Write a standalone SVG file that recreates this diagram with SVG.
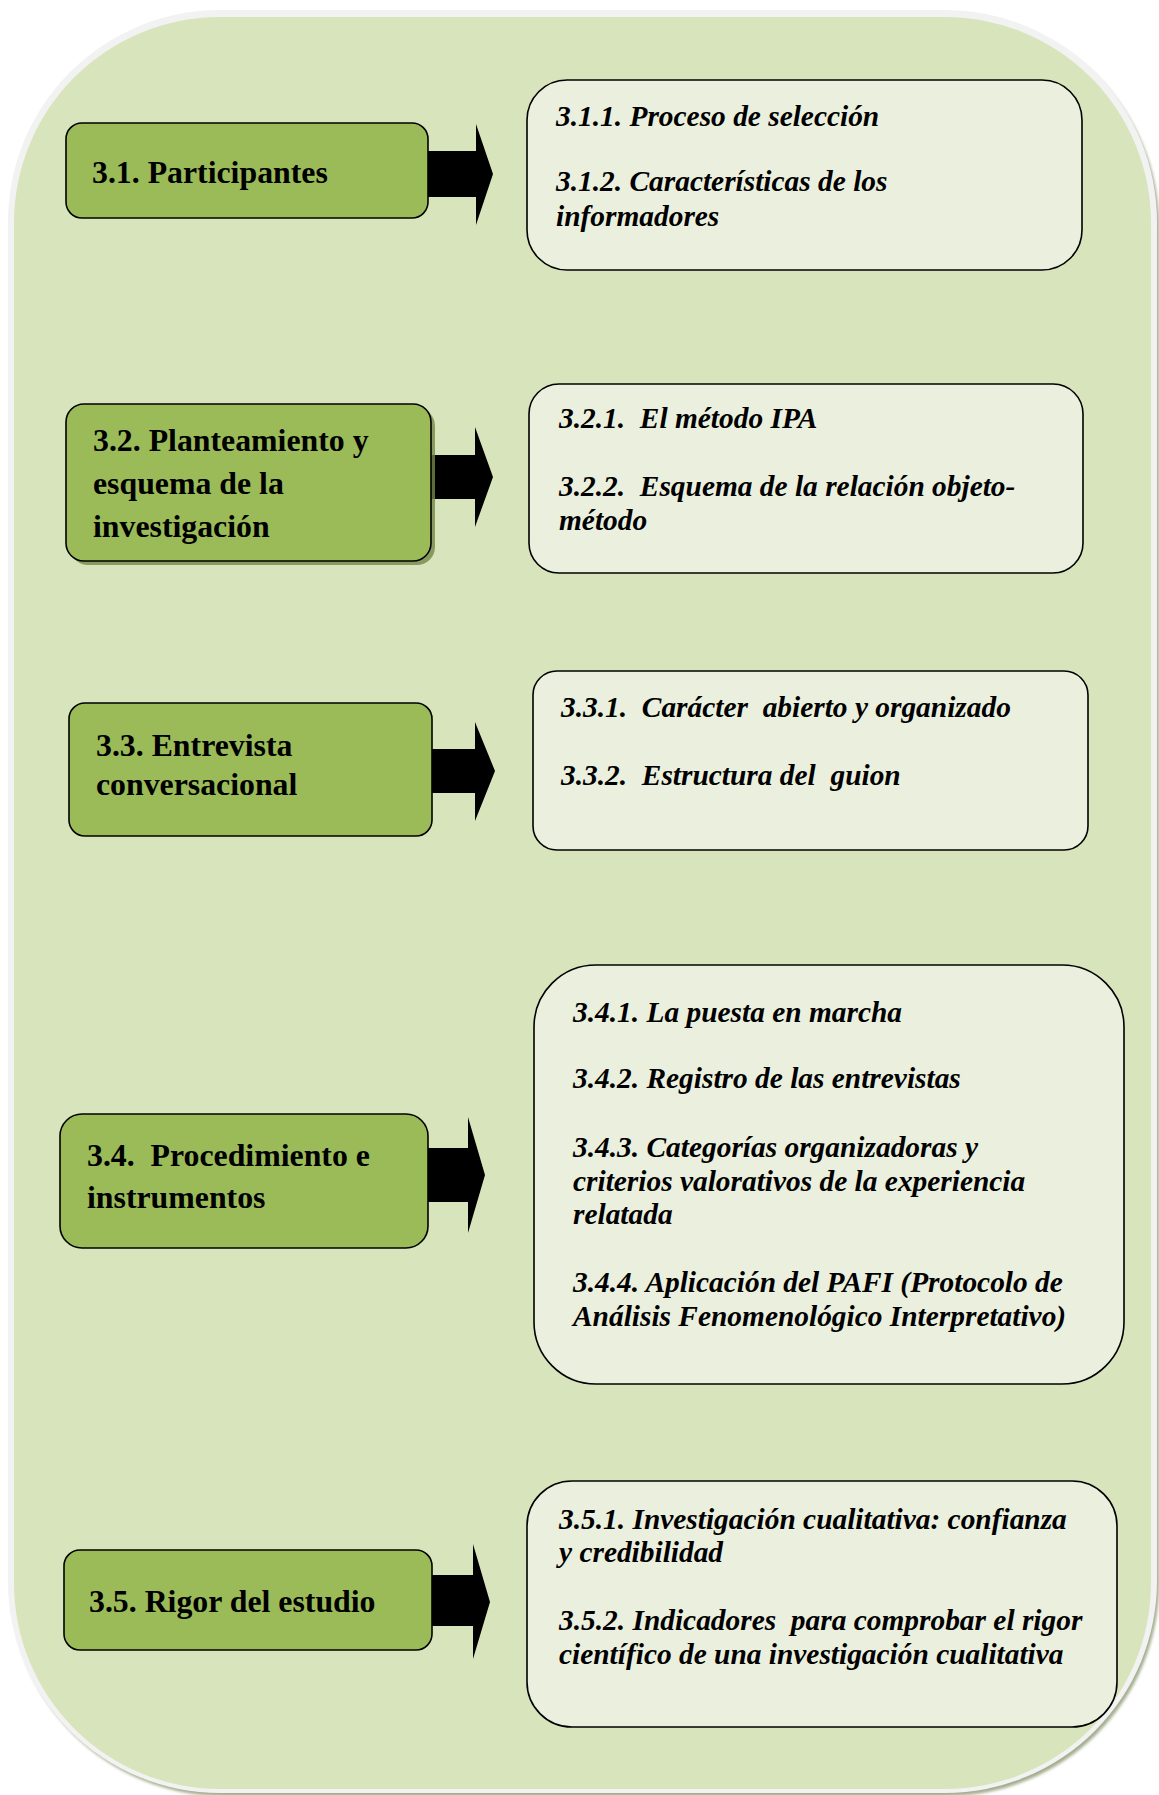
<svg xmlns="http://www.w3.org/2000/svg" width="1159" height="1795" viewBox="0 0 1159 1795">
  <defs>
    <filter id="soft" x="-5%" y="-5%" width="110%" height="110%">
      <feGaussianBlur stdDeviation="1.5"/>
    </filter>
  </defs>
  <style>
    .node { fill: #9bbb59; stroke: #000; stroke-width: 1.6; }
    .sub { fill: #ebf0de; stroke: #000; stroke-width: 1.6; }
    .lbl { font-family: "Liberation Serif", "Times New Roman", serif; font-weight: bold; font-size: 31.8px; fill: #000; white-space: pre; }
    .item { font-family: "Liberation Serif", "Times New Roman", serif; font-weight: bold; font-style: italic; font-size: 29.4px; fill: #000; white-space: pre; }
    .arrow { fill: #000; }
  </style>

  <!-- panel background: drop shadow, pale rim, green face -->
  <g id="panel">
    <rect x="11" y="14" width="1148" height="1782" rx="212" ry="212" fill="#a3ad8e" filter="url(#soft)"/>
    <rect x="8" y="10" width="1149" height="1783" rx="212" ry="212" fill="#f2f2f2"/>
    <rect x="14" y="17" width="1137" height="1772" rx="206" ry="206" fill="#d8e4bc"/>
  </g>

  <!-- connectors -->
  <g id="connectors">
    <polygon class="arrow" points="428,151 476,151 476,124 493,174 476,225 476,197 428,197"/>
    <polygon class="arrow" points="431,455 475,455 475,427 493,477 475,527 475,499 431,499"/>
    <polygon class="arrow" points="432,749 475,749 475,722 495,771 475,821 475,793 432,793"/>
    <polygon class="arrow" points="428,1148 468,1148 468,1117 485,1175 468,1233 468,1202 428,1202"/>
    <polygon class="arrow" points="432,1575 473,1575 473,1544 490,1602 473,1659 473,1626 432,1626"/>
  </g>

  <!-- 3.1 -->
  <g id="n31">
    <rect class="node" x="66" y="123" width="362" height="95" rx="16"/>
    <text class="lbl" x="92" y="183">3.1. Participantes</text>
  </g>
  <g id="s31">
    <rect class="sub" x="527" y="80" width="555" height="190" rx="40"/>
    <text class="item" x="556" y="126">3.1.1. Proceso de selección</text>
    <text class="item" x="556" y="191">3.1.2. Características de los</text>
    <text class="item" x="556" y="226">informadores</text>
  </g>

  <!-- 3.2 -->
  <g id="n32">
    <rect x="70" y="408" width="365" height="157" rx="18" fill="#76874a" opacity="0.8"/>
    <rect class="node" x="66" y="404" width="365" height="157" rx="18"/>
    <text class="lbl" x="93" y="451">3.2. Planteamiento y</text>
    <text class="lbl" x="93" y="494">esquema de la</text>
    <text class="lbl" x="93" y="537">investigación</text>
  </g>
  <g id="s32">
    <rect class="sub" x="529" y="384" width="554" height="189" rx="30"/>
    <text class="item" x="559" y="428">3.2.1.  El método IPA</text>
    <text class="item" x="559" y="496">3.2.2.  Esquema de la relación objeto-</text>
    <text class="item" x="559" y="530">método</text>
  </g>

  <!-- 3.3 -->
  <g id="n33">
    <rect class="node" x="69" y="703" width="363" height="133" rx="16"/>
    <text class="lbl" x="96" y="756">3.3. Entrevista</text>
    <text class="lbl" x="96" y="795">conversacional</text>
  </g>
  <g id="s33">
    <rect class="sub" x="533" y="671" width="555" height="179" rx="24"/>
    <text class="item" x="561" y="717">3.3.1.  Carácter  abierto y organizado</text>
    <text class="item" x="561" y="785">3.3.2.  Estructura del  guion</text>
  </g>

  <!-- 3.4 -->
  <g id="n34">
    <rect class="node" x="60" y="1114" width="368" height="134" rx="22"/>
    <text class="lbl" x="87" y="1166">3.4.  Procedimiento e</text>
    <text class="lbl" x="87" y="1208">instrumentos</text>
  </g>
  <g id="s34">
    <rect class="sub" x="534" y="965" width="590" height="419" rx="62"/>
    <text class="item" x="573" y="1022">3.4.1. La puesta en marcha</text>
    <text class="item" x="573" y="1088">3.4.2. Registro de las entrevistas</text>
    <text class="item" x="573" y="1157">3.4.3. Categorías organizadoras y</text>
    <text class="item" x="573" y="1191">criterios valorativos de la experiencia</text>
    <text class="item" x="573" y="1224">relatada</text>
    <text class="item" x="573" y="1292">3.4.4. Aplicación del PAFI (Protocolo de</text>
    <text class="item" x="573" y="1326">Análisis Fenomenológico Interpretativo)</text>
  </g>

  <!-- 3.5 -->
  <g id="n35">
    <rect class="node" x="64" y="1550" width="368" height="100" rx="16"/>
    <text class="lbl" x="89" y="1612">3.5. Rigor del estudio</text>
  </g>
  <g id="s35">
    <rect class="sub" x="527" y="1481" width="590" height="246" rx="45"/>
    <text class="item" x="559" y="1529">3.5.1. Investigación cualitativa: confianza</text>
    <text class="item" x="559" y="1562">y credibilidad</text>
    <text class="item" x="559" y="1630">3.5.2. Indicadores  para comprobar el rigor</text>
    <text class="item" x="559" y="1664">científico de una investigación cualitativa</text>
  </g>
</svg>
